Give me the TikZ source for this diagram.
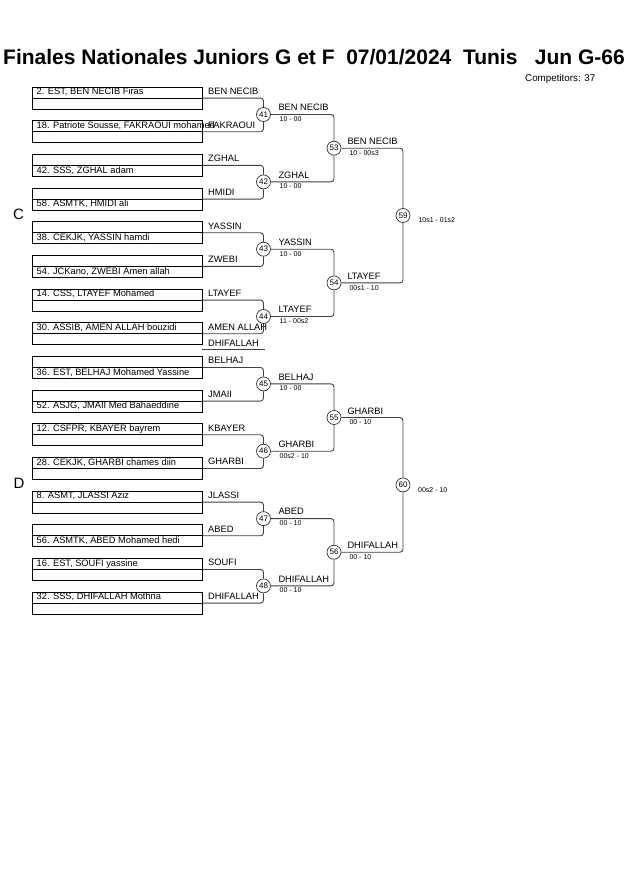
\documentclass[tikz,border=0pt]{standalone}
\usepackage{fontspec}
\setmainfont{Liberation Sans}
\begin{document}
\begin{tikzpicture}[x=1pt,y=-1pt,
  entry/.style={draw=black, line width=0.7pt, minimum width=170pt, minimum height=22pt, inner sep=0pt, anchor=north west},
  nm/.style={font=\fontsize{9.3}{10}\selectfont, inner sep=0pt, anchor=base west},
  sc/.style={font=\fontsize{7}{8}\selectfont, inner sep=0pt, anchor=base west},
  bout/.style={circle, draw=black!80, fill=white, line width=0.7pt, minimum size=14pt, inner sep=0pt, font=\fontsize{8}{9}\selectfont},
  br/.style={draw=black!75, line width=0.9pt, rounded corners=3pt},
  mid/.style={draw=black, line width=0.7pt}]
\useasboundingbox (0,0) rectangle (630,891);
\fill[white] (0,0) rectangle (630,891);

% title
\node[inner sep=0pt, anchor=base west, font=\fontsize{21}{24}\selectfont\bfseries] (title) at (3,65)
  {Finales Nationales Juniors G et F\ \ 07/01/2024\ \ Tunis\ \ \ Jun G-66};
\node[inner sep=0pt, anchor=base west, font=\fontsize{9.8}{11}\selectfont] (comp) at (525,81.3) {Competitors: 37};
\node[inner sep=0pt, anchor=base west, font=\fontsize{15}{17}\selectfont] (poolC) at (13,219) {C};
\node[inner sep=0pt, anchor=base west, font=\fontsize{15}{17}\selectfont] (poolD) at (13.5,488.3) {D};

% entry boxes
\node[entry] (e0) at (32,86.7) {};
\node[entry] (e1) at (32,120.4) {};
\node[entry] (e2) at (32,154.0) {};
\node[entry] (e3) at (32,187.7) {};
\node[entry] (e4) at (32,221.4) {};
\node[entry] (e5) at (32,255.05) {};
\node[entry] (e6) at (32,288.7) {};
\node[entry] (e7) at (32,322.4) {};
\node[entry] (e8) at (32,356.1) {};
\node[entry] (e9) at (32,389.7) {};
\node[entry] (e10) at (32,423.4) {};
\node[entry] (e11) at (32,457.1) {};
\node[entry] (e12) at (32,490.7) {};
\node[entry] (e13) at (32,524.4) {};
\node[entry] (e14) at (32,558.1) {};
\node[entry] (e15) at (32,591.75) {};
\foreach \k in {0,...,15} { \draw[mid] (e\k.west) -- (e\k.east); }

% competitor texts
\node[nm] (t0) at (36.5,94.7) {2. EST, BEN NECIB Firas};
\node[nm] (t1) at (36.5,128.4) {18. Patriote Sousse, FAKRAOUI mohamed};
\node[nm] (t2) at (36.5,173.0) {42. SSS, ZGHAL adam};
\node[nm] (t3) at (36.5,206.7) {58. ASMTK, HMIDI ali};
\node[nm] (t4) at (36.5,240.4) {38. CEKJK, YASSIN hamdi};
\node[nm] (t5) at (36.5,274.05) {54. JCKano, ZWEBI Amen allah};
\node[nm] (t6) at (36.5,296.7) {14. CSS, LTAYEF Mohamed};
\node[nm] (t7) at (36.5,330.4) {30. ASSIB, AMEN ALLAH bouzidi};
\node[nm] (t8) at (36.5,375.1) {36. EST, BELHAJ Mohamed Yassine};
\node[nm] (t9) at (36.5,408.7) {52. ASJG, JMAII Med Bahaeddine};
\node[nm] (t10) at (36.5,431.4) {12. CSFPR, KBAYER bayrem};
\node[nm] (t11) at (36.5,465.1) {28. CEKJK, GHARBI chames diin};
\node[nm] (t12) at (36.5,498.7) {8. ASMT, JLASSI Aziz};
\node[nm] (t13) at (36.5,543.4) {56. ASMTK, ABED Mohamed hedi};
\node[nm] (t14) at (36.5,566.1) {16. EST, SOUFI yassine};
\node[nm] (t15) at (36.5,599.75) {32. SSS, DHIFALLAH Mothna};

% first round names
\node[nm] (l0) at (208,94.4) {BEN NECIB};
\node[nm] (l1) at (208,128.1) {FAKRAOUI};
\node[nm] (l2) at (208,161.7) {ZGHAL};
\node[nm] (l3) at (208,195.4) {HMIDI};
\node[nm] (l4) at (208,229.1) {YASSIN};
\node[nm] (l5) at (208,262.75) {ZWEBI};
\node[nm] (l6) at (208,296.4) {LTAYEF};
\node[nm] (l7) at (208,330.1) {AMEN ALLAH};
\node[nm] (l8) at (208,363.8) {BELHAJ};
\node[nm] (l9) at (208,397.4) {JMAII};
\node[nm] (l10) at (208,431.1) {KBAYER};
\node[nm] (l11) at (208,464.8) {GHARBI};
\node[nm] (l12) at (208,498.4) {JLASSI};
\node[nm] (l13) at (208,532.1) {ABED};
\node[nm] (l14) at (208,565.8) {SOUFI};
\node[nm] (l15) at (208,599.45) {DHIFALLAH};

% extra name with underline
\node[nm] (lx) at (208,346.2) {DHIFALLAH};
\coordinate (ulA) at (202,349.6);
\coordinate (ulB) at (265,349.6);
\draw[br] (ulA) -- (ulB);

% bout circles
\node[bout] (m41) at (263.5,114.5) {41};
\node[bout] (m42) at (263.5,181.9) {42};
\node[bout] (m43) at (263.5,249.2) {43};
\node[bout] (m44) at (263.5,316.5) {44};
\node[bout] (m45) at (263.5,383.9) {45};
\node[bout] (m46) at (263.5,451.2) {46};
\node[bout] (m47) at (263.5,518.6) {47};
\node[bout] (m48) at (263.5,585.9) {48};
\node[bout] (m53) at (334,148.2) {53};
\node[bout] (m54) at (334,282.9) {54};
\node[bout] (m55) at (334,417.5) {55};
\node[bout] (m56) at (334,552.2) {56};
\node[bout] (m59) at (403,215.5) {59};
\node[bout] (m60) at (403,484.9) {60};

% connectors round 1
\draw[br] (e0.east) -| (m41.north);  \draw[br] (e1.east) -| (m41.south);
\draw[br] (e2.east) -| (m42.north);  \draw[br] (e3.east) -| (m42.south);
\draw[br] (e4.east) -| (m43.north);  \draw[br] (e5.east) -| (m43.south);
\draw[br] (e6.east) -| (m44.north);  \draw[br] (e7.east) -| (m44.south);
\draw[br] (e8.east) -| (m45.north);  \draw[br] (e9.east) -| (m45.south);
\draw[br] (e10.east) -| (m46.north); \draw[br] (e11.east) -| (m46.south);
\draw[br] (e12.east) -| (m47.north); \draw[br] (e13.east) -| (m47.south);
\draw[br] (e14.east) -| (m48.north); \draw[br] (e15.east) -| (m48.south);
% round 2
\draw[br] (m41.east) -| (m53.north); \draw[br] (m42.east) -| (m53.south);
\draw[br] (m43.east) -| (m54.north); \draw[br] (m44.east) -| (m54.south);
\draw[br] (m45.east) -| (m55.north); \draw[br] (m46.east) -| (m55.south);
\draw[br] (m47.east) -| (m56.north); \draw[br] (m48.east) -| (m56.south);
% round 3
\draw[br] (m53.east) -| (m59.north); \draw[br] (m54.east) -| (m59.south);
\draw[br] (m55.east) -| (m60.north); \draw[br] (m56.east) -| (m60.south);

% round 2 winners and scores
\node[nm] (w41) at (278.3,110.7) {BEN NECIB}; \node[sc] (s41) at (279.5,121.3) {10 - 00};
\node[nm] (w42) at (278.3,178.1) {ZGHAL};     \node[sc] (s42) at (279.5,188.7) {10 - 00};
\node[nm] (w43) at (278.3,245.4) {YASSIN};    \node[sc] (s43) at (279.5,256.0) {10 - 00};
\node[nm] (w44) at (278.3,312.7) {LTAYEF};    \node[sc] (s44) at (279.5,323.3) {11 - 00s2};
\node[nm] (w45) at (278.3,380.1) {BELHAJ};    \node[sc] (s45) at (279.5,390.7) {10 - 00};
\node[nm] (w46) at (278.3,447.4) {GHARBI};    \node[sc] (s46) at (279.5,458.0) {00s2 - 10};
\node[nm] (w47) at (278.3,514.8) {ABED};      \node[sc] (s47) at (279.5,525.4) {00 - 10};
\node[nm] (w48) at (278.3,582.1) {DHIFALLAH}; \node[sc] (s48) at (279.5,592.7) {00 - 10};
% round 3 winners and scores
\node[nm] (w53) at (347.3,144.9) {BEN NECIB}; \node[sc] (s53) at (349.3,155.6) {10 - 00s3};
\node[nm] (w54) at (347.3,279.6) {LTAYEF};    \node[sc] (s54) at (349.3,290.3) {00s1 - 10};
\node[nm] (w55) at (347.3,414.2) {GHARBI};    \node[sc] (s55) at (349.3,424.9) {00 - 10};
\node[nm] (w56) at (347.3,548.9) {DHIFALLAH}; \node[sc] (s56) at (349.3,559.6) {00 - 10};
% final scores
\node[sc] (s59) at (418.3,222.9) {10s1 - 01s2};
\node[sc] (s60) at (418.0,492.5) {00s2 - 10};
\end{tikzpicture}
\end{document}
